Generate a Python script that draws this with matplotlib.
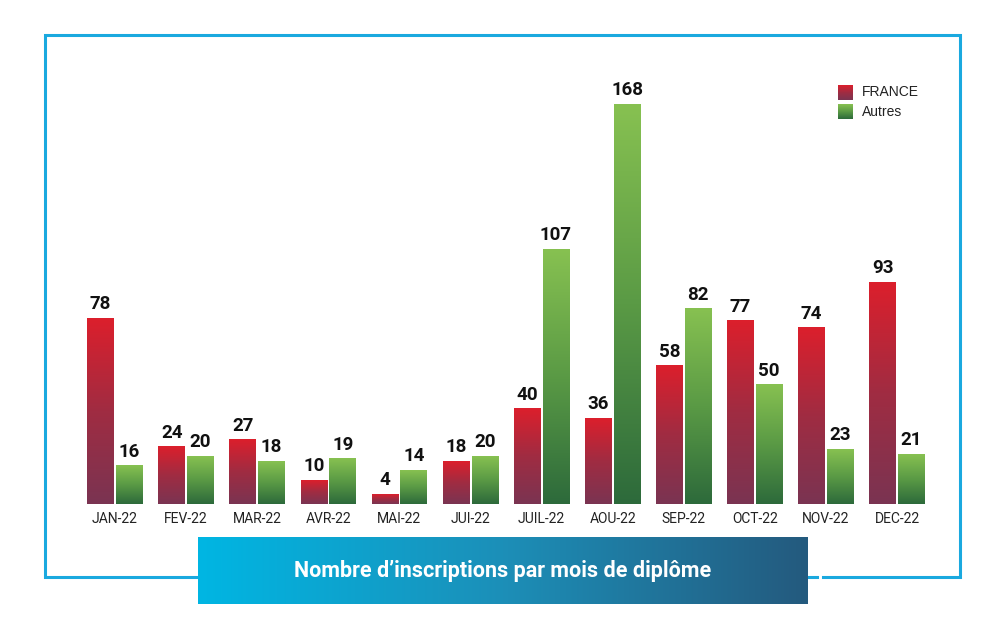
import numpy as np
import matplotlib
matplotlib.use('Agg')
import matplotlib.pyplot as plt
from matplotlib.colors import LinearSegmentedColormap

mois = ['JAN-22', 'FEV-22', 'MAR-22', 'AVR-22', 'MAI-22', 'JUI-22',
        'JUIL-22', 'AOU-22', 'SEP-22', 'OCT-22', 'NOV-22', 'DEC-22']
france = [78, 24, 27, 10, 4, 18, 40, 36, 58, 77, 74, 93]
autres = [16, 20, 18, 19, 14, 20, 107, 168, 82, 50, 23, 21]
series = ['FRANCE', 'Autres']
titre = 'Nombre d\u2019inscriptions par mois de diplôme'

W, H = 995, 643
fig = plt.figure(figsize=(W / 100, H / 100), dpi=100)
fig.patch.set_facecolor('white')

# axes: baseline at y=504px, x spans the frame
ax = fig.add_axes([45 / W, 1 - 504 / H, (960 - 45) / W, (504 - 35) / H])
ax.set_xlim(-0.985, 11.886)
ax.set_ylim(0, (504 - 35) / 2.38)
ax.axis('off')

cm_rouge = LinearSegmentedColormap.from_list('r', ['#7a3452', '#a02c42', '#dc1f2c'])
cm_vert = LinearSegmentedColormap.from_list('v', ['#2d6a3b', '#5a9a45', '#87c151'])
grad = np.linspace(0, 1, 256).reshape(-1, 1)

x = np.arange(len(mois))
bw = 0.375
police = ['Roboto', 'DejaVu Sans']

def barres(pos, vals, cmap):
    bars = ax.bar(pos, vals, bw, color='none', edgecolor='none')
    for b, v in zip(bars, vals):
        x0, y0 = b.get_x(), b.get_y()
        ax.imshow(grad, cmap=cmap, origin='lower', aspect='auto',
                  extent=(x0, x0 + b.get_width(), y0, y0 + b.get_height()),
                  zorder=2)
        ax.text(x0 + b.get_width() / 2, v + 2.2, str(v), ha='center', va='bottom',
                fontsize=13.5, fontweight='bold', family=police, color='#111111')

barres(x - bw / 2 - 0.015, france, cm_rouge)
barres(x + bw / 2 + 0.015, autres, cm_vert)

for i, m in enumerate(mois):
    ax.text(i, -3.2, m, ha='center', va='top', fontsize=10, family=police,
            color='#222222')

# overlay axes in pixel coords (frame, legend, title box)
bleu = '#1aa9df'
fr = fig.add_axes([0, 0, 1, 1], zorder=-1)
fr.set_xlim(0, W)
fr.set_ylim(H, 0)
fr.axis('off')
fr.plot([198, 45, 45, 960, 960, 823], [577, 577, 35, 35, 577, 577],
        color=bleu, lw=2.2, solid_joinstyle='miter')
fr.plot([808, 817], [577, 577], color=bleu, lw=2.2)

tb = fig.add_axes([0, 0, 1, 1], zorder=5)
tb.axis('off')

# legend squares with the same gradients (light colour on top)
for k, (nom, cmap) in enumerate(zip(series, [cm_rouge, cm_vert])):
    ytop = 85 + k * 19
    tb.imshow(grad, cmap=cmap, origin='lower', aspect='auto',
              extent=(838, 853, ytop + 15, ytop), zorder=3)
    tb.text(862, ytop + 7.5, nom, fontsize=10, family='Liberation Sans',
            va='center', color='#222222')

cm_titre = LinearSegmentedColormap.from_list('t', ['#00b6e3', '#1c8fb8', '#245a7e'])
tb.imshow(np.linspace(0, 1, 256).reshape(1, -1), cmap=cm_titre, aspect='auto',
          extent=(198, 808, 604, 537))
tb.set_xlim(0, W)
tb.set_ylim(H, 0)
tb.text(503, 571, titre, ha='center', va='center', color='white',
        fontsize=15.5, fontweight='semibold', family=police)

fig.savefig('out.png', dpi=100)
